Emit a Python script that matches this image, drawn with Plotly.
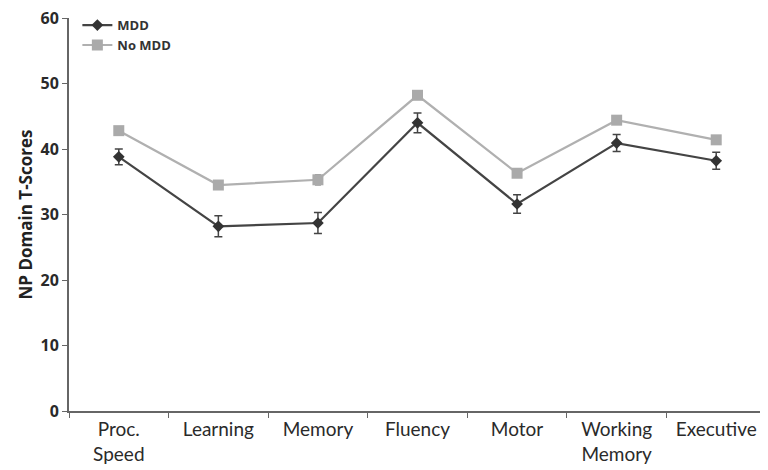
import plotly.graph_objects as go

categories = ["Proc.<br>Speed", "Learning", "Memory", "Fluency", "Motor", "Working<br>Memory", "Executive"]
mdd = [38.8, 28.2, 28.7, 44.0, 31.6, 40.9, 38.2]
mdd_err = [1.2, 1.6, 1.6, 1.5, 1.4, 1.3, 1.3]
no_mdd = [42.8, 34.5, 35.3, 48.2, 36.3, 44.4, 41.4]
no_mdd_err = [0.6, 0.6, 0.8, 0.6, 0.6, 0.6, 0.6]
y_ticks = [0, 10, 20, 30, 40, 50, 60]

fig = go.Figure()
fig.add_trace(go.Scatter(
    x=categories, y=mdd, name="<b>MDD</b>", mode="lines+markers",
    line=dict(color="#444444", width=2.2),
    marker=dict(symbol="diamond", size=9, color="#333333"),
    error_y=dict(type="data", array=mdd_err, color="#444444", thickness=1.5, width=4),
))
fig.add_trace(go.Scatter(
    x=categories, y=no_mdd, name="<b>No MDD</b>", mode="lines+markers",
    line=dict(color="#b0b0b0", width=2.2),
    marker=dict(symbol="square", size=11, color="#aaaaaa"),
    error_y=dict(type="data", array=no_mdd_err, color="#999999", thickness=1.2, width=3),
))

fig.update_layout(
    width=768, height=470,
    margin=dict(l=61, r=10, t=10, b=67, autoexpand=False),
    plot_bgcolor="white", paper_bgcolor="white",
    font=dict(family="Open Sans, Lato, sans-serif", color="#222222"),
    showlegend=True,
    legend=dict(x=0.012, y=1.02, xanchor="left", yanchor="top",
                font=dict(size=13, color="#333333", family="Open Sans"),
                bgcolor="rgba(0,0,0,0)", tracegroupgap=0, itemwidth=30),
)
fig.update_xaxes(
    type="category", range=[-0.5, 6.5], automargin=False,
    showline=True, linecolor="#666666", linewidth=2,
    ticks="outside", tickson="boundaries", ticklen=5, tickcolor="#666666",
    tickfont=dict(size=19, color="#2a2a2a", family="Lato, Open Sans"),
    showgrid=False, zeroline=False,
)
fig.update_yaxes(
    range=[0, 60], tickvals=y_ticks, ticktext=["<b>%d</b>" % v for v in y_ticks],
    automargin=False, ticklabeloverflow="allow",
    showline=True, linecolor="#666666", linewidth=2,
    ticks="outside", ticklen=5, tickcolor="#666666",
    tickfont=dict(size=16, color="#2a2a2a", family="Open Sans"),
    showgrid=False, zeroline=False,
    title=dict(text="<b>NP Domain T-Scores</b>", font=dict(size=17, color="#222222"), standoff=4),
)

fig.write_html("out.html")
